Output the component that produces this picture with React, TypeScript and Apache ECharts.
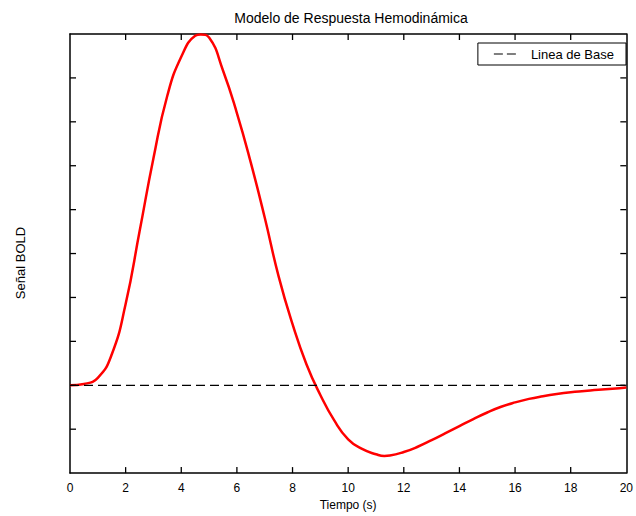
import React, { useEffect, useRef } from "react";
import * as echarts from "echarts";

const titleText = "Modelo de Respuesta Hemodinámica";
const xAxisName = "Tiempo (s)";
const yAxisName = "Señal BOLD";
const legendName = "Linea de Base";

// time (s) and BOLD signal (arbitrary units, one tick = 1)
const times = [0, 0.5, 1, 1.5, 2, 2.5, 3, 3.5, 4, 4.5, 4.7, 5, 5.5, 6, 6.5, 7, 7.5, 8, 8.5, 9, 9.5, 10, 10.5, 11, 11.3, 11.5, 12, 12.5, 13, 13.5, 14, 14.5, 15, 15.5, 16, 16.5, 17, 17.5, 18, 18.5, 19, 19.5, 20];
const bold = [0, 0.03, 0.17, 0.7, 1.85, 3.5, 5.17, 6.6, 7.48, 7.96, 7.99, 7.92, 7.17, 6.2, 5.07, 3.82, 2.48, 1.39, 0.48, -0.22, -0.8, -1.23, -1.45, -1.57, -1.61, -1.6, -1.52, -1.4, -1.25, -1.09, -0.93, -0.77, -0.62, -0.49, -0.39, -0.31, -0.25, -0.2, -0.16, -0.13, -0.1, -0.08, -0.05];
const baselineTimes = [0, 20];
const baselineValues = [0, 0];

// mirrored tick positions for the top and right frame
const xTickValues = [2, 4, 6, 8, 10, 12, 14, 16, 18];
const yTickValues = [-1, 0, 1, 2, 3, 4, 5, 6, 7];

const xMin = 0, xMax = 20, xStep = 2;
const yMin = -2, yMax = 8, yStep = 1;

const mkLine = () => ({ show: true, onZero: false, lineStyle: { color: "#000", width: 1.5 } });

export default function App() {
  const ref = useRef<HTMLDivElement>(null);
  useEffect(() => {
    if (!ref.current) return;
    const chart = echarts.init(ref.current, null, { renderer: "svg" });
    const font = "Liberation Sans, Arial, Helvetica, sans-serif";
    const narrow = "Liberation Sans Narrow, Liberation Sans, Arial, sans-serif";
    const TL = 6;
    const tickStyle = { stroke: "#000", lineWidth: 1.3 };
    chart.setOption({
      animation: false,
      backgroundColor: "#fff",
      title: {
        text: titleText,
        left: 346,
        textAlign: "center",
        top: 6,
        textStyle: { fontFamily: font, fontSize: 14, fontWeight: "normal", color: "#000" },
      },
      legend: {
        data: [{ name: legendName, icon: "path://M0,0H9V1H0ZM13,0H22V1H13Z" }],
        right: 10,
        top: 43,
        orient: "horizontal",
        itemWidth: 22,
        itemHeight: 1.4,
        itemGap: 10,
        padding: [4, 12, 4, 16],
        borderColor: "#000",
        borderWidth: 1,
        borderRadius: 0,
        itemStyle: { color: "#000" },
        textStyle: { fontFamily: font, fontSize: 13, color: "#000", padding: [0, 0, 0, 10], lineHeight: 14 },
      },
      grid: { left: 70, right: 7, top: 34, bottom: 42, containLabel: false },
      xAxis: [
        {
          type: "value",
          position: "bottom",
          min: xMin,
          max: xMax,
          interval: xStep,
          name: xAxisName,
          nameLocation: "middle",
          nameGap: 23,
          nameTextStyle: { fontFamily: font, fontSize: 12, color: "#000" },
          axisLine: mkLine(),
          axisTick: { show: false },
          axisLabel: { margin: 9, fontFamily: narrow, fontSize: 12, color: "#000" },
          splitLine: { show: false },
        },
        {
          type: "value",
          position: "top",
          min: xMin,
          max: xMax,
          interval: xStep,
          axisLine: mkLine(),
          axisTick: { show: false },
          axisLabel: { show: false },
          splitLine: { show: false },
        },
      ],
      yAxis: [
        {
          type: "value",
          position: "left",
          min: yMin,
          max: yMax,
          interval: yStep,
          axisLine: mkLine(),
          axisTick: { show: false },
          axisLabel: { show: false },
          splitLine: { show: false },
        },
        {
          type: "value",
          position: "right",
          min: yMin,
          max: yMax,
          interval: yStep,
          axisLine: mkLine(),
          axisTick: { show: false },
          axisLabel: { show: false },
          splitLine: { show: false },
        },
      ],
      graphic: [
        {
          type: "text",
          x: 20,
          y: 263,
          rotation: Math.PI / 2,
          style: {
            text: yAxisName,
            fontFamily: font,
            fontSize: 13,
            fill: "#000",
            align: "center",
            verticalAlign: "middle",
          },
        },
      ],
      series: [
        {
          name: legendName,
          type: "line",
          xAxisIndex: 0,
          yAxisIndex: 0,
          data: baselineTimes.map((t, i) => [t, baselineValues[i]]),
          showSymbol: false,
          symbol: "none",
          lineStyle: { color: "#000", width: 1.3, type: [9, 5] },
          itemStyle: { color: "#000" },
          z: 3,
        },
        {
          name: "BOLD",
          type: "line",
          xAxisIndex: 0,
          yAxisIndex: 0,
          data: times.map((t, i) => [t, bold[i]]),
          smooth: 0.5,
          showSymbol: false,
          symbol: "none",
          lineStyle: { color: "#ff0000", width: 2.5 },
          itemStyle: { color: "#ff0000" },
          z: 2,
        },
        {
          name: "ticksX",
          type: "custom",
          xAxisIndex: 0,
          yAxisIndex: 0,
          clip: false,
          silent: true,
          z: 4,
          data: xTickValues.map((v) => [v, yMin, yMax]),
          renderItem: (params: any, api: any) => {
            const top = api.coord([api.value(0), api.value(2)]);
            const bot = api.coord([api.value(0), api.value(1)]);
            return {
              type: "group",
              children: [
                { type: "line", shape: { x1: top[0], y1: top[1], x2: top[0], y2: top[1] + TL }, style: tickStyle },
                { type: "line", shape: { x1: bot[0], y1: bot[1], x2: bot[0], y2: bot[1] - TL }, style: tickStyle },
              ],
            };
          },
        },
        {
          name: "ticksY",
          type: "custom",
          xAxisIndex: 0,
          yAxisIndex: 0,
          clip: false,
          silent: true,
          z: 4,
          data: yTickValues.map((v) => [xMin, v, xMax]),
          renderItem: (params: any, api: any) => {
            const l = api.coord([api.value(0), api.value(1)]);
            const r = api.coord([api.value(2), api.value(1)]);
            return {
              type: "group",
              children: [
                { type: "line", shape: { x1: l[0], y1: l[1], x2: l[0] + TL, y2: l[1] }, style: tickStyle },
                { type: "line", shape: { x1: r[0], y1: r[1], x2: r[0] - TL, y2: r[1] }, style: tickStyle },
              ],
            };
          },
        },
      ],
    });
    return () => chart.dispose();
  }, []);
  return <div ref={ref} style={{ width: 636, height: 516, position: "absolute", left: 0, top: 0 }} />;
}
